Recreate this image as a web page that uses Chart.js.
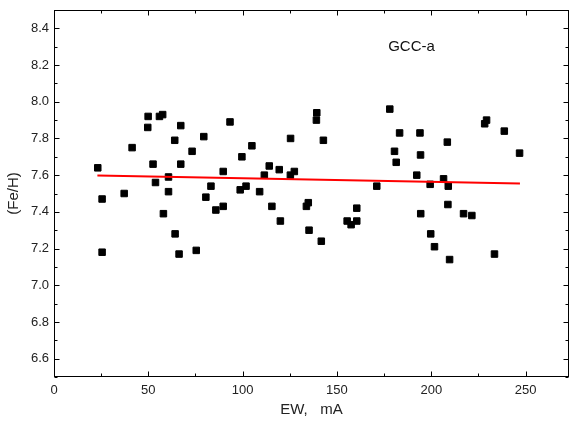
<!DOCTYPE html>
<html>
<head>
<meta charset="utf-8">
<script src="https://cdn.jsdelivr.net/npm/chart.js@4.4.1/dist/chart.umd.min.js"></script>
<style>
  html, body { margin: 0; padding: 0; background: #fff; }
  #grafica { display: block; }
</style>
</head>
<body>
<canvas id="grafica" width="570" height="421"></canvas>
<script>
// ==========================================
// DATOS
// ==========================================
const ewValores = [23.2, 25.5, 25.5, 37.2, 41.4, 49.7, 49.9, 52.5, 53.8, 55.9, 57.6, 58.0, 60.7, 60.7,
  64.0, 64.2, 66.3, 67.2, 67.2, 73.2, 75.4, 79.4, 80.5, 83.2, 85.8, 89.7, 89.7, 93.3, 98.7, 99.6,
  101.8, 104.9, 109.0, 111.5, 114.1, 115.5, 119.4, 120.0, 125.3, 125.4, 127.4, 133.8, 134.8, 135.2,
  139.1, 139.3, 141.7, 142.8, 155.4, 157.5, 160.5, 160.5, 171.1, 178.0, 180.5, 181.4, 183.2, 192.3,
  194.0, 194.3, 194.4, 199.4, 199.7, 201.7, 206.5, 208.5, 208.8, 209.0, 209.7, 217.1, 221.5, 228.3,
  229.3, 233.5, 238.7, 246.8];
const feHValores = [7.64, 7.47, 7.18, 7.50, 7.75, 7.86, 7.92, 7.66, 7.56, 7.92, 7.93, 7.39, 7.59, 7.51,
  7.79, 7.28, 7.17, 7.66, 7.87, 7.73, 7.19, 7.81, 7.48, 7.54, 7.41, 7.43, 7.62, 7.89, 7.52, 7.70,
  7.54, 7.76, 7.51, 7.60, 7.65, 7.43, 7.63, 7.35, 7.60, 7.80, 7.62, 7.43, 7.45, 7.30,
  7.90, 7.94, 7.24, 7.79, 7.35, 7.33, 7.42, 7.35, 7.54, 7.96, 7.73, 7.67, 7.83, 7.60,
  7.83, 7.71, 7.39, 7.55, 7.28, 7.21, 7.58, 7.78, 7.44, 7.54, 7.14, 7.39, 7.38, 7.88,
  7.90, 7.17, 7.84, 7.72];

// recta de ajuste (extremos)
const ajusteEW = [23, 247];
const ajusteFeH = [7.598, 7.555];

const ticksX = [0, 50, 100, 150, 200, 250];
const ticksY = [6.6, 6.8, 7.0, 7.2, 7.4, 7.6, 7.8, 8.0, 8.2, 8.4];

const etiqueta = 'GCC-a';
const etiquetaPos = [189.5, 8.30];

// ==========================================
// PLUGIN: marco y marcas hacia dentro
// ==========================================
const marcoPlugin = {
  id: 'marco',
  afterDraw(chart) {
    const { ctx, chartArea: a, scales: { x, y } } = chart;
    ctx.save();
    ctx.strokeStyle = '#000';
    ctx.lineWidth = 1;
    const L = Math.round(a.left) + 0.5, R = Math.round(a.right) - 0.5;
    const T = Math.round(a.top) + 0.5, B = Math.round(a.bottom) - 0.5;
    ctx.strokeRect(L, T, R - L, B - T);

    ctx.beginPath();
    for (let v = 0; v <= x.max; v += 25) {
      const px = Math.round(x.getPixelForValue(v)) + 0.5;
      const len = v % 50 === 0 ? 5 : 3;
      ctx.moveTo(px, B); ctx.lineTo(px, B - len);
      ctx.moveTo(px, T); ctx.lineTo(px, T + len);
    }
    for (let i = 65; i <= 85; i++) {
      const py = Math.round(y.getPixelForValue(i / 10)) + 0.5;
      const len = i % 2 === 0 ? 5 : 3;
      ctx.moveTo(L, py); ctx.lineTo(L + len, py);
      ctx.moveTo(R, py); ctx.lineTo(R - len, py);
    }
    ctx.stroke();

    // etiqueta del panel
    ctx.fillStyle = '#111';
    ctx.font = '15px "Liberation Sans", Arial, sans-serif';
    ctx.textAlign = 'center';
    ctx.textBaseline = 'middle';
    ctx.fillText(etiqueta, x.getPixelForValue(etiquetaPos[0]), y.getPixelForValue(etiquetaPos[1]));
    ctx.restore();
  }
};

// ==========================================
// GRÁFICA
// ==========================================
const fuente = { family: '"Liberation Sans", Arial, sans-serif', size: 13 };

new Chart(document.getElementById('grafica'), {
  type: 'scatter',
  data: {
    datasets: [
      {
        data: ewValores.map((v, i) => ({ x: v, y: feHValores[i] })),
        pointStyle: 'rect',
        pointRadius: 4.6,
        backgroundColor: '#000',
        borderColor: '#000',
        borderWidth: 1,
        order: 2
      },
      {
        type: 'line',
        data: ajusteEW.map((v, i) => ({ x: v, y: ajusteFeH[i] })),
        borderColor: '#ff0000',
        borderWidth: 2,
        pointRadius: 0,
        fill: false,
        order: 1
      }
    ]
  },
  options: {
    responsive: false,
    animation: false,
    devicePixelRatio: 1,
    layout: { autoPadding: false, padding: { top: 10, right: 1, left: 0, bottom: 0 } },
    plugins: { legend: { display: false }, tooltip: { enabled: false } },
    scales: {
      x: {
        type: 'linear',
        min: 0,
        max: 273,
        grid: { display: false, drawTicks: false },
        border: { display: false },
        afterBuildTicks: s => { s.ticks = ticksX.map(v => ({ value: v })); },
        afterFit: s => { s.height = 44; s.paddingLeft = 0; s.paddingRight = 0; },
        ticks: { font: fuente, color: '#222', padding: 6, maxRotation: 0 },
        title: {
          display: true,
          text: 'EW,   mA',
          font: { family: fuente.family, size: 15 },
          color: '#222',
          padding: { top: 0, bottom: 2 }
        }
      },
      y: {
        type: 'linear',
        min: 6.5,
        max: 8.5,
        grid: { display: false, drawTicks: false },
        border: { display: false },
        afterBuildTicks: s => { s.ticks = ticksY.map(v => ({ value: v })); },
        afterFit: s => { s.width = 54; s.paddingTop = 0; s.paddingBottom = 0; },
        ticks: { font: fuente, color: '#222', padding: 5, callback: v => v.toFixed(1) },
        title: {
          display: true,
          text: '(Fe/H)',
          font: { family: fuente.family, size: 15 },
          color: '#222',
          padding: { top: 5, bottom: 0 }
        }
      }
    }
  },
  plugins: [marcoPlugin]
});
</script>
</body>
</html>
